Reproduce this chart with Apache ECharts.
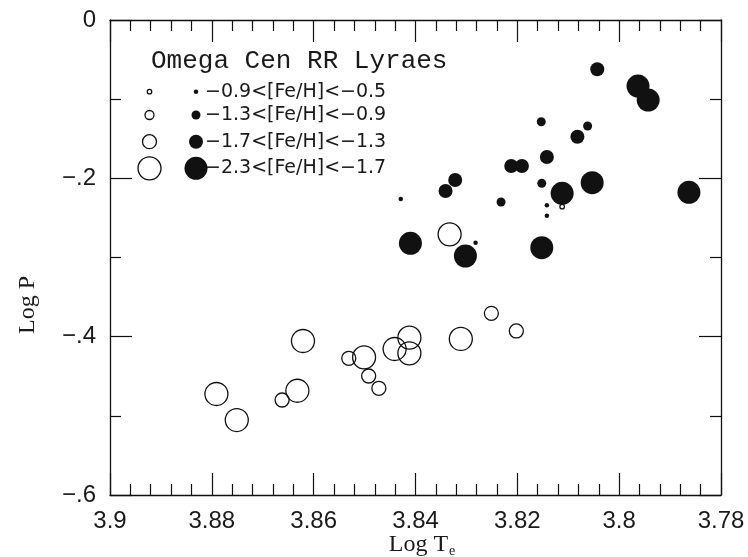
<!DOCTYPE html>
<html><head><meta charset="utf-8">
<script src="https://cdn.jsdelivr.net/npm/echarts@6/dist/echarts.min.js"></script>
<style>html,body{margin:0;padding:0;background:#fff}#c{width:748px;height:557px}</style>
</head><body><div id="c"></div><script>
// ---- data ----
const xLabelName = 'Log T';
const yLabelName = 'Log P';
const legendTitle = 'Omega Cen RR Lyraes';
const legendLabels = ['\u22120.9<[Fe/H]<\u22120.5', '\u22121.3<[Fe/H]<\u22120.9', '\u22121.7<[Fe/H]<\u22121.3', '\u22122.3<[Fe/H]<\u22121.7'];

// filled circles (metallicity class 0..3)
const filledX = [3.8043, 3.7963, 3.7943, 3.8153, 3.8062, 3.8082, 3.8142, 3.8212, 3.8191, 3.8322, 3.8341, 3.8152, 3.8112, 3.8053, 3.7863, 3.8232, 3.8142, 3.8142, 3.8282, 3.8302, 3.8152, 3.8410, 3.8429];
const filledY = [-0.0623, -0.0834, -0.1011, -0.1285, -0.1339, -0.1474, -0.1731, -0.1844, -0.1844, -0.2021, -0.2160, -0.2063, -0.2189, -0.2055, -0.2176, -0.2299, -0.2341, -0.2472, -0.2813, -0.2981, -0.2876, -0.2821, -0.2261];
const filledClass = [2, 3, 3, 1, 1, 2, 2, 2, 2, 2, 2, 1, 3, 3, 3, 1, 0, 0, 0, 3, 3, 3, 0];

// open circles
const openX = [3.8791, 3.8751, 3.8621, 3.8632, 3.8662, 3.8531, 3.8501, 3.8492, 3.8472, 3.8441, 3.8412, 3.8412, 3.8311, 3.8251, 3.8202, 3.8333, 3.8112];
const openY = [-0.4724, -0.5053, -0.4055, -0.4683, -0.4800, -0.4273, -0.4261, -0.4497, -0.4652, -0.4156, -0.4013, -0.4210, -0.4029, -0.3705, -0.3928, -0.2707, -0.2358];
const openClass = [3, 3, 3, 3, 2, 2, 3, 2, 2, 3, 3, 3, 3, 2, 2, 3, 0];

// ---- style ----
const sizes = [4.5, 9, 14, 23];
const ink = '#111';
const textInk = '#1a1a1a';

const chart = echarts.init(document.getElementById('c'), null, {renderer: 'canvas'});
const filledData = filledX.map((x, i) => [x, filledY[i], filledClass[i]]);
const openData = openX.map((x, i) => [x, openY[i], openClass[i]]);

const xFmt = v => String(+(+v).toFixed(2));
const yFmt = v => { const r = +(+v).toFixed(1); if (r === 0) return '0'; return '\u2212' + Math.abs(r).toFixed(1).slice(1); };

function xAxisCfg(pos, showLabel) {
  return {
    type: 'value', position: pos, min: 3.78, max: 3.9, interval: 0.02, inverse: true,
    axisLine: {show: true, onZero: false, lineStyle: {color: ink, width: 1.3}},
    axisTick: {show: true, inside: true, length: 22, lineStyle: {color: ink, width: 1.2}},
    minorTick: {show: true, splitNumber: 5, length: 11, lineStyle: {color: ink, width: 1.2}},
    splitLine: {show: false}, minorSplitLine: {show: false},
    axisLabel: {show: showLabel, formatter: xFmt, margin: 14, color: textInk, fontFamily: 'Liberation Sans', fontSize: 24},
  };
}
function yAxisCfg(pos, showLabel) {
  return {
    type: 'value', position: pos, min: -0.6, max: 0, interval: 0.2,
    axisLine: {show: true, onZero: false, lineStyle: {color: ink, width: 1.3}},
    axisTick: {show: true, inside: true, length: 22, lineStyle: {color: ink, width: 1.2}},
    minorTick: {show: true, splitNumber: 2, length: 11, lineStyle: {color: ink, width: 1.2}},
    splitLine: {show: false}, minorSplitLine: {show: false},
    axisLabel: {show: showLabel, formatter: yFmt, margin: 14, color: textInk, fontFamily: 'Liberation Sans', fontSize: 24},
  };
}

const rowY = [91.7, 115, 141.7, 168.3];
const graphics = [];
graphics.push({type: 'text', left: 151, top: 48, style: {text: legendTitle, fill: textInk, font: '26px "Liberation Mono"'}});
rowY.forEach((y, i) => {
  graphics.push({type: 'circle', shape: {cx: 149.5, cy: y, r: sizes[i] / 2}, style: {fill: 'none', stroke: ink, lineWidth: 1.3}});
  graphics.push({type: 'circle', shape: {cx: 196, cy: y, r: sizes[i] / 2}, style: {fill: ink}});
  graphics.push({type: 'text', x: 205, y: y, style: {text: legendLabels[i], fill: textInk, font: '19px "DejaVu Sans"', verticalAlign: 'middle', textAlign: 'left'}});
});
graphics.push({type: 'text', x: 28, y: 305, rotation: Math.PI / 2, style: {text: yLabelName, fill: textInk, font: '24px "Liberation Serif"', textAlign: 'center', verticalAlign: 'middle'}});
graphics.push({type: 'text', x: 422, y: 545, style: {rich: {a: {font: '24px "Liberation Serif"', fill: textInk}, s: {font: '14px "Liberation Serif"', fill: textInk, padding: [12, 0, 0, 1]}}, text: '{a|' + xLabelName + '}{s|e}', textAlign: 'center', verticalAlign: 'middle'}});

chart.setOption({
  backgroundColor: '#fff',
  animation: false,
  grid: {left: 110, right: 27, top: 20, bottom: 62, containLabel: false, outerBoundsMode: 'none'},
  xAxis: [xAxisCfg('bottom', true), xAxisCfg('top', false)],
  yAxis: [yAxisCfg('left', true), yAxisCfg('right', false)],
  series: [
    {type: 'scatter', name: 'filled', xAxisIndex: 0, yAxisIndex: 0, data: filledData,
     symbol: 'circle', symbolSize: v => sizes[v[2]], itemStyle: {color: ink, opacity: 1}, z: 2},
    {type: 'scatter', name: 'open', xAxisIndex: 0, yAxisIndex: 0, data: openData,
     symbol: 'circle', symbolSize: v => sizes[v[2]], itemStyle: {color: 'rgba(0,0,0,0)', borderColor: ink, borderWidth: 1.3, opacity: 1}, z: 3},
  ],
  graphic: graphics,
});
</script></body></html>
